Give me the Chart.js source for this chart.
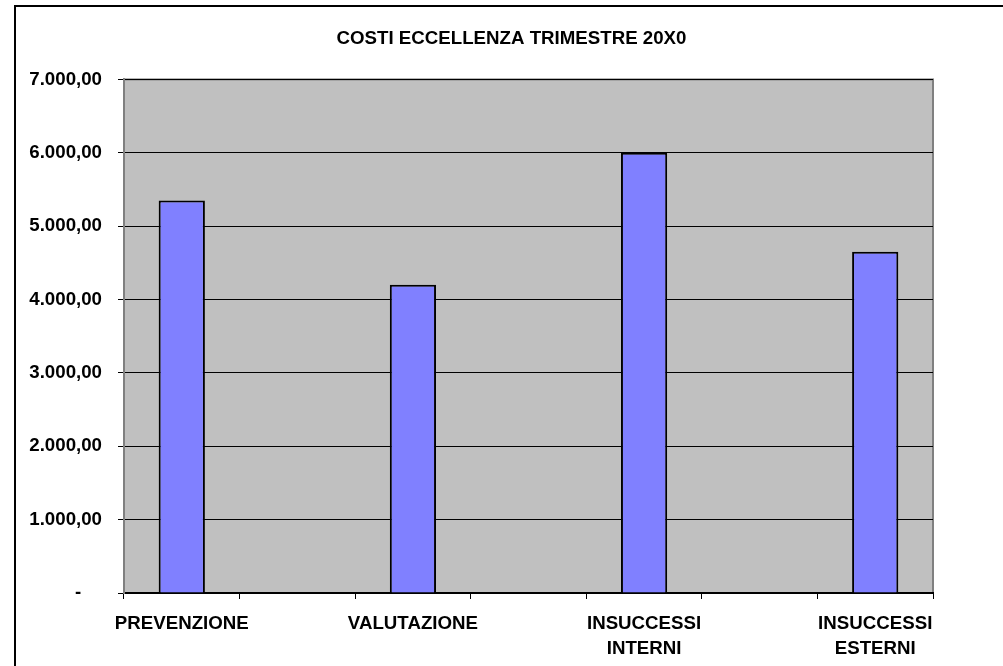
<!DOCTYPE html>
<html>
<head>
<meta charset="utf-8">
<script src="https://cdn.jsdelivr.net/npm/chart.js@4.4.0/dist/chart.umd.min.js"></script>
<style>
  html, body { margin: 0; padding: 0; background: #fff; }
</style>
</head>
<body>
<canvas id="costi" width="1003" height="666"></canvas>
<script>
// dati del grafico
var categorie = ['PREVENZIONE', '', 'VALUTAZIONE', '', ['INSUCCESSI', 'INTERNI'], '', ['INSUCCESSI', 'ESTERNI']];
var costi = [5350, null, 4200, null, 6000, null, 4650];
var etichetteY = ['-', '1.000,00', '2.000,00', '3.000,00', '4.000,00', '5.000,00', '6.000,00', '7.000,00'];
var titolo = 'COSTI ECCELLENZA TRIMESTRE 20X0';

// sfondo grigio dell'area del grafico + cornice esterna
var sfondo = {
    id: 'sfondo',
    beforeDraw: function (chart) {
        var ctx = chart.ctx, a = chart.chartArea;
        ctx.save();
        ctx.strokeStyle = '#000';
        ctx.lineWidth = 2;
        ctx.strokeRect(15, 6, 1200, 900);
        ctx.fillStyle = '#C0C0C0';
        ctx.fillRect(a.left, a.top, a.right - a.left, a.bottom - a.top);
        ctx.strokeStyle = '#808080';
        ctx.lineWidth = 2;
        ctx.strokeRect(a.left, a.top, a.right - a.left, a.bottom - a.top);
        ctx.restore();
    }
};

var font = { family: '"Liberation Sans", Arial, sans-serif', size: 18.7, weight: 'bold' };

new Chart(document.getElementById('costi'), {
    type: 'bar',
    data: {
        labels: categorie,
        datasets: [{
            data: costi,
            backgroundColor: '#8080FF',
            borderColor: '#000',
            borderWidth: 2,
            categoryPercentage: 1,
            barPercentage: 0.4
        }]
    },
    options: {
        responsive: false,
        animation: false,
        devicePixelRatio: 1,
        layout: { padding: { left: 20, right: 0, top: 0, bottom: 0 } },
        plugins: {
            legend: { display: false },
            tooltip: { enabled: false },
            title: {
                display: true,
                text: titolo,
                color: '#000',
                font: { family: font.family, size: 18.7, weight: 'bold' },
                padding: { top: 28, bottom: 29 }
            }
        },
        scales: {
            x: {
                afterFit: function (scale) { scale.height = 73; },
                grid: { display: true, drawOnChartArea: false, color: '#000', lineWidth: 1, tickLength: 6, offset: true },
                border: { color: '#000', width: 2 },
                ticks: { color: '#000', font: Object.assign({ lineHeight: 1.3 }, font), autoSkip: false, maxRotation: 0, padding: 13 }
            },
            y: {
                min: 0,
                max: 7000,
                afterFit: function (scale) { scale.width = 104; },
                grid: { color: '#000', lineWidth: 1, tickLength: 6 },
                border: { color: '#808080', width: 2 },
                ticks: {
                    stepSize: 1000,
                    color: '#000',
                    font: font,
                    padding: 16,
                    callback: function (v, i) {
                        return i === 0 ? etichetteY[i] + '    ' : etichetteY[i];
                    }
                }
            },
            // asse vuoto a destra: solo per lasciare il margine come nell'originale
            destra: {
                position: 'right',
                afterFit: function (scale) { scale.width = 70; },
                grid: { display: false },
                border: { display: false },
                ticks: { display: false }
            }
        }
    },
    plugins: [sfondo]
});
</script>
</body>
</html>
